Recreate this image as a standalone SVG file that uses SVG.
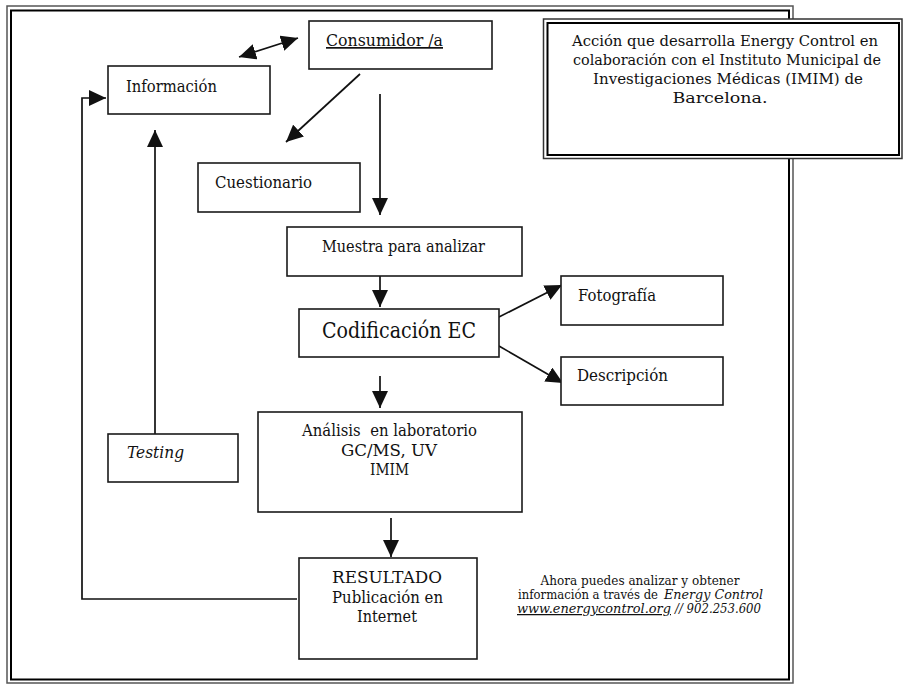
<svg xmlns="http://www.w3.org/2000/svg" width="903" height="684" viewBox="0 0 903 684">
<style>
  .box { fill: #fff; stroke: #1a1a1a; stroke-width: 1.6; }
  .t { font-family: "DejaVu Serif", "Liberation Serif", serif; font-size: 17px; fill: #111; }
  .c { text-anchor: middle; }
  .big { font-size: 23px; }
  .acc { font-size: 14.5px; }
  .conn { fill: none; stroke: #111; stroke-width: 1.7; }
  .note { font-family: "DejaVu Serif", "Liberation Serif", serif; font-size: 12.5px; fill: #111; }
  .fo { fill: none; stroke: #555; stroke-width: 1.5; }
  .fi { fill: none; stroke: #000; stroke-width: 2; }
</style>
<defs>
  <marker id="ah" markerUnits="userSpaceOnUse" markerWidth="17" markerHeight="16" viewBox="0 0 17 16" refX="17" refY="8" orient="auto-start-reverse">
    <path d="M0,0 L17,8 L0,16 z" fill="#111"/>
  </marker>
</defs>
<rect width="903" height="684" fill="#fff"/>
<g id="frame">
  <path class="fo" d="M793,19 V6 H7 V683 H793 V158.5"/>
  <path class="fi" d="M789,19 V10.5 H11 V679.5 H789 V158.5"/>
</g>
<g id="connectors">
  <line class="conn" x1="239" y1="57" x2="298" y2="38" marker-start="url(#ah)" marker-end="url(#ah)"/>
  <line class="conn" x1="360" y1="74" x2="286" y2="142" marker-end="url(#ah)"/>
  <line class="conn" x1="380" y1="94" x2="380" y2="215" marker-end="url(#ah)"/>
  <line class="conn" x1="155" y1="434" x2="155" y2="130" marker-end="url(#ah)"/>
  <polyline class="conn" points="297,599 82,599 82,98 106,98" marker-end="url(#ah)"/>
  <line class="conn" x1="380" y1="276" x2="380" y2="307" marker-end="url(#ah)"/>
  <line class="conn" x1="499" y1="317" x2="562" y2="285" marker-end="url(#ah)"/>
  <line class="conn" x1="499" y1="346" x2="563" y2="383" marker-end="url(#ah)"/>
  <line class="conn" x1="380" y1="376" x2="380" y2="408" marker-end="url(#ah)"/>
  <line class="conn" x1="391" y1="518" x2="391" y2="557" marker-end="url(#ah)"/>
</g>
<g id="consumidor">
  <rect class="box" x="309" y="21" width="183" height="48"/>
  <text class="t" x="326" y="46" textLength="117" lengthAdjust="spacingAndGlyphs" text-decoration="underline">Consumidor /a</text>
</g>
<g id="informacion">
  <rect class="box" x="108" y="66" width="162" height="48"/>
  <text class="t" x="126" y="92" textLength="91" lengthAdjust="spacingAndGlyphs">Información</text>
</g>
<g id="cuestionario">
  <rect class="box" x="198" y="163" width="162" height="49"/>
  <text class="t" x="215" y="188" textLength="97" lengthAdjust="spacingAndGlyphs">Cuestionario</text>
</g>
<g id="accion">
  <rect x="543.5" y="19" width="358.5" height="139.5" fill="#fff" stroke="#333" stroke-width="1.5"/>
  <rect x="547.5" y="23" width="351.5" height="132" fill="none" stroke="#000" stroke-width="2"/>
  <text class="t c acc" x="725" y="46" textLength="306" lengthAdjust="spacingAndGlyphs">Acción que desarrolla Energy Control en</text>
  <text class="t c acc" x="727" y="65" textLength="308" lengthAdjust="spacingAndGlyphs">colaboración con el Instituto Municipal de</text>
  <text class="t c acc" x="728" y="84" textLength="270" lengthAdjust="spacingAndGlyphs">Investigaciones Médicas (IMIM) de</text>
  <text class="t c acc" x="720" y="103" textLength="95" lengthAdjust="spacingAndGlyphs">Barcelona.</text>
</g>
<g id="muestra">
  <rect class="box" x="287" y="227" width="235" height="49"/>
  <text class="t c" x="403.5" y="252" textLength="163" lengthAdjust="spacingAndGlyphs">Muestra para analizar</text>
</g>
<g id="codificacion">
  <rect class="box" x="299" y="309" width="200" height="48"/>
  <text class="t c big" x="399" y="338" textLength="154" lengthAdjust="spacingAndGlyphs">Codificación EC</text>
</g>
<g id="fotografia">
  <rect class="box" x="561" y="276" width="162" height="49"/>
  <text class="t" x="578" y="301" textLength="78" lengthAdjust="spacingAndGlyphs">Fotografía</text>
</g>
<g id="descripcion">
  <rect class="box" x="561" y="357" width="162" height="48"/>
  <text class="t" x="577" y="381" textLength="91" lengthAdjust="spacingAndGlyphs">Descripción</text>
</g>
<g id="analisis">
  <rect class="box" x="258" y="412" width="264" height="100"/>
  <text class="t c" x="389.5" y="436" textLength="175" lengthAdjust="spacingAndGlyphs" xml:space="preserve">Análisis  en laboratorio</text>
  <text class="t c" x="389" y="456" textLength="96" lengthAdjust="spacingAndGlyphs">GC/MS, UV</text>
  <text class="t c" x="389.5" y="475" textLength="39" lengthAdjust="spacingAndGlyphs">IMIM</text>
</g>
<g id="testing">
  <rect class="box" x="108" y="434" width="130" height="48"/>
  <text class="t" x="127" y="458" font-style="italic" textLength="57" lengthAdjust="spacingAndGlyphs">Testing</text>
</g>
<g id="resultado">
  <rect class="box" x="299" y="558" width="178" height="101"/>
  <text class="t c" x="387" y="583" textLength="110" lengthAdjust="spacingAndGlyphs">RESULTADO</text>
  <text class="t c" x="387.5" y="603" textLength="111" lengthAdjust="spacingAndGlyphs">Publicación en</text>
  <text class="t c" x="387" y="622" textLength="60" lengthAdjust="spacingAndGlyphs">Internet</text>
</g>
<g id="nota">
  <text class="note c" x="640" y="585" textLength="199" lengthAdjust="spacingAndGlyphs">Ahora puedes analizar y obtener</text>
  <text class="note" x="518" y="599" textLength="140" lengthAdjust="spacingAndGlyphs">información a través de</text>
  <text class="note" x="664" y="599" font-style="italic" textLength="99" lengthAdjust="spacingAndGlyphs">Energy Control</text>
  <text class="note" x="517" y="613" font-style="italic" text-decoration="underline" textLength="154" lengthAdjust="spacingAndGlyphs">www.energycontrol.org</text>
  <text class="note" x="675" y="613" font-style="italic" textLength="86" lengthAdjust="spacingAndGlyphs">// 902.253.600</text>
</g>
</svg>
